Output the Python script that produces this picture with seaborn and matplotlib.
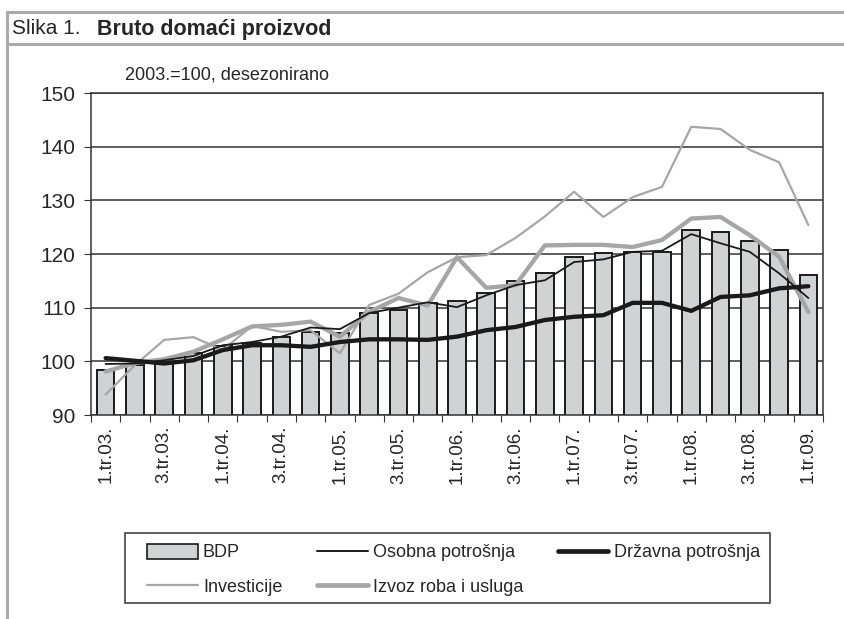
import matplotlib
matplotlib.use('Agg')
import matplotlib.pyplot as plt
from matplotlib.lines import Line2D
from matplotlib.patches import Patch, Rectangle
import seaborn as sns
import pandas as pd
import numpy as np

# kvartali 1.tr.03. - 1.tr.09.
kvartali = [f'{q}.tr.{y:02d}.' for y in range(3, 10) for q in range(1, 5)][:25]

bdp = [98.4, 99.3, 99.8, 101.5, 102.8, 103.5, 104.6, 105.5, 105.2, 109.0, 109.6, 110.9,
       111.3, 112.7, 115.0, 116.4, 119.4, 120.1, 120.4, 120.4, 124.4, 124.1, 122.4, 120.7, 116.1]
osobna = [99.5, 99.6, 100.2, 101.0, 103.0, 103.6, 104.6, 106.3, 106.0, 109.0, 110.0, 111.0,
          110.1, 112.3, 114.2, 115.1, 118.5, 119.0, 120.4, 120.6, 123.7, 122.0, 120.4, 116.4, 111.8]
drzavna = [100.6, 100.1, 99.6, 100.2, 102.1, 103.0, 103.0, 102.7, 103.6, 104.1, 104.1, 104.0,
           104.6, 105.8, 106.4, 107.7, 108.3, 108.6, 110.9, 110.9, 109.4, 112.0, 112.3, 113.6, 114.0]
investicije = [93.8, 99.3, 104.0, 104.5, 102.1, 106.6, 105.5, 105.8, 101.5, 110.5, 112.6, 116.6,
               119.4, 119.8, 123.0, 127.0, 131.6, 126.9, 130.6, 132.5, 143.7, 143.3, 139.4, 137.1, 125.4]
izvoz = [98.1, 99.7, 100.4, 101.8, 104.1, 106.5, 106.8, 107.4, 104.6, 109.2, 111.8, 110.4,
         119.4, 113.7, 114.2, 121.6, 121.7, 121.7, 121.3, 122.6, 126.6, 126.9, 123.5, 119.5, 109.2]

df = pd.DataFrame({'kvartal': kvartali, 'x': np.arange(len(kvartali)), 'BDP': bdp,
                   'Osobna potrošnja': osobna, 'Državna potrošnja': drzavna,
                   'Investicije': investicije, 'Izvoz roba i usluga': izvoz})

sns.set_style('white')
plt.rcParams['font.family'] = ['Liberation Sans', 'DejaVu Sans']

fig = plt.figure(figsize=(8.44, 6.19), dpi=100)
ax = fig.add_axes([91/844, 1-415/619, (823-91)/844, (415-93)/619])

sns.barplot(x='x', y='BDP', data=df, color='#d1d2d4', width=0.6, edgecolor='#1a1a1a',
            linewidth=1.4, saturation=1, ax=ax, zorder=2)
sns.lineplot(x='x', y='Investicije', data=df, color='#a6a6a6', linewidth=1.6, ax=ax, zorder=3)
sns.lineplot(x='x', y='Izvoz roba i usluga', data=df, color='#a6a6a6', linewidth=3.1, ax=ax, zorder=4)
sns.lineplot(x='x', y='Državna potrošnja', data=df, color='#1a1a1a', linewidth=3.1, ax=ax, zorder=5)
sns.lineplot(x='x', y='Osobna potrošnja', data=df, color='#1a1a1a', linewidth=1.3, ax=ax, zorder=6)

ax.set_ylim(90, 150)
ax.set_xlim(-0.5, len(kvartali) - 0.5)
ax.set_yticks(range(90, 151, 10))
ax.yaxis.grid(True, color='#333333', linewidth=1.1, zorder=0)
ax.set_axisbelow(True)
ax.set_xlabel('')
ax.set_ylabel('')
for s in ax.spines.values():
    s.set_color('#333333')
    s.set_linewidth(1.1)

ax.set_xticks(np.arange(-0.5, len(kvartali), 1))
ax.set_xticklabels([])
ax.set_xticks(np.arange(0, len(kvartali), 2), minor=True)
ax.set_xticklabels(kvartali[::2], minor=True, rotation=90, fontsize=13.5)
ax.tick_params(axis='x', which='major', direction='out', length=5, color='#333333', bottom=True)
ax.tick_params(axis='x', which='minor', length=0, pad=8, bottom=True)
ax.tick_params(axis='y', direction='out', length=5, color='#333333', labelsize=15, left=True, pad=6)

fig.text(125/844, 1-75/619, '2003.=100, desezonirano', fontsize=13, va='center')

# okvir i naslov
fig.add_artist(Line2D([7/844, 1], [1-12/619, 1-12/619], color='#aaaaaa', linewidth=2.2))
fig.add_artist(Line2D([7/844, 1], [1-44/619, 1-44/619], color='#aaaaaa', linewidth=2.2))
fig.add_artist(Line2D([7/844, 7/844], [0, 1-12/619], color='#aaaaaa', linewidth=2.2))
fig.text(12/844, 1-29/619, 'Slika 1.', fontsize=15, va='center')
fig.text(97/844, 1-29/619, 'Bruto domaći proizvod', fontsize=15.5, fontweight='bold', va='center')

# legenda s okvirom
fig.add_artist(Rectangle((125/844, 1-603/619), (770-125)/844, (603-533)/619,
                         transform=fig.transFigure, facecolor='white', edgecolor='#333333',
                         linewidth=1.1))
handles = [Patch(facecolor='#d1d2d4', edgecolor='#1a1a1a', linewidth=1.2),
           Line2D([], [], color='#a6a6a6', linewidth=1.6),
           Line2D([], [], color='#1a1a1a', linewidth=1.4),
           Line2D([], [], color='#a6a6a6', linewidth=3.4),
           Line2D([], [], color='#1a1a1a', linewidth=3.4)]
labels = ['BDP', 'Investicije', 'Osobna potrošnja', 'Izvoz roba i usluga', 'Državna potrošnja']
leg = fig.legend(handles, labels, ncol=3, loc='center left',
                 bbox_to_anchor=(147/844, 1-570/619, (760-147)/844, 0), mode='expand',
                 bbox_transform=fig.transFigure, fontsize=13, frameon=False,
                 handlelength=2.8, handleheight=0.9, handletextpad=0.3,
                 borderpad=0, labelspacing=0.95, columnspacing=1.5, borderaxespad=0)

fig.savefig('out.png', dpi=100)
